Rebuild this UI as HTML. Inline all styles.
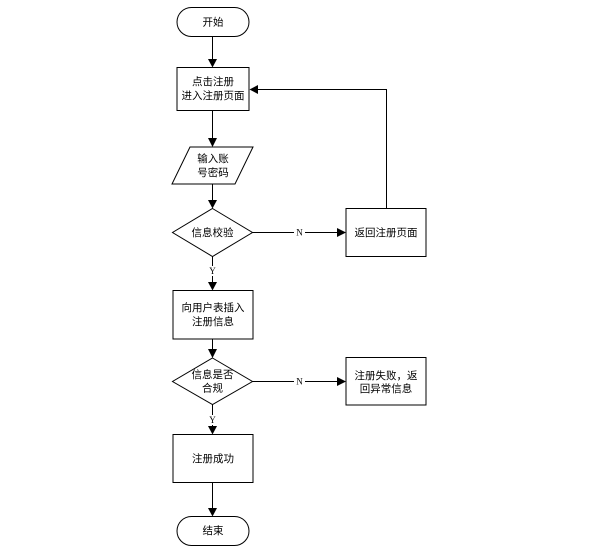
<!DOCTYPE html>
<html><head><meta charset="utf-8"><style>
html,body{margin:0;padding:0;background:#fff;}
svg{display:block;}
.t{font-family:"Liberation Sans","Noto Sans CJK SC",sans-serif;font-size:10.5px;fill:#000;text-anchor:middle;dominant-baseline:central;}
.l{font-family:"Liberation Serif",serif;font-size:9px;fill:#000;text-anchor:middle;dominant-baseline:central;}
</style></head><body>
<svg width="606" height="553" viewBox="0 0 606 553" xmlns="http://www.w3.org/2000/svg">
<g stroke="#000" stroke-width="1" fill="none">
<!-- start -->
<rect x="177" y="7.5" width="72" height="29" rx="14.5" ry="14.5" fill="#fff"/>
<line x1="212.5" y1="36.5" x2="212.5" y2="59"/>
<rect x="177" y="67.5" width="72" height="43" fill="#fff"/>
<line x1="212.5" y1="110.5" x2="212.5" y2="138"/>
<polygon points="190,147 253,147 235,184 172,184" fill="#fff"/>
<line x1="212.5" y1="184" x2="212.5" y2="200"/>
<polygon points="212.5,208.5 252.5,232.5 212.5,256.5 172.5,232.5" fill="#fff"/>
<line x1="252.5" y1="232.5" x2="294" y2="232.5"/>
<line x1="305" y1="232.5" x2="337" y2="232.5"/>
<rect x="346" y="208.5" width="80" height="48" fill="#fff"/>
<polyline points="386.5,208.5 386.5,89.5 258,89.5"/>
<line x1="212.5" y1="256.5" x2="212.5" y2="266"/>
<line x1="212.5" y1="276" x2="212.5" y2="282"/>
<rect x="173" y="290.5" width="80" height="48.5" fill="#fff"/>
<line x1="212.5" y1="339" x2="212.5" y2="349"/>
<polygon points="212.5,358 252.5,381.5 212.5,404.5 172.5,381.5" fill="#fff"/>
<line x1="252.5" y1="381.5" x2="294" y2="381.5"/>
<line x1="305" y1="381.5" x2="337" y2="381.5"/>
<rect x="346" y="357.5" width="80" height="47.5" fill="#fff"/>
<line x1="212.5" y1="404.5" x2="212.5" y2="415"/>
<line x1="212.5" y1="425" x2="212.5" y2="426"/>
<rect x="173" y="434.5" width="80" height="48" fill="#fff"/>
<line x1="212.5" y1="482.5" x2="212.5" y2="508"/>
<rect x="177" y="516.5" width="72" height="29" rx="14.5" ry="14.5" fill="#fff"/>
</g>
<g fill="#000">
<polygon points="208,59 217,59 212.5,67.5"/>
<polygon points="208,138 217,138 212.5,147"/>
<polygon points="208,200 217,200 212.5,208.5"/>
<polygon points="337,228 337,237 346,232.5"/>
<polygon points="258,85 258,94 249.5,89.5"/>
<polygon points="208,282 217,282 212.5,290.5"/>
<polygon points="208,349 217,349 212.5,358"/>
<polygon points="337,377 337,386 346,381.5"/>
<polygon points="208,426 217,426 212.5,434.5"/>
<polygon points="208,508 217,508 212.5,516.5"/>
</g>
<text class="t" x="213" y="22.5">开始</text>
<text class="t" x="213" y="82">点击注册</text>
<text class="t" x="213" y="96">进入注册页面</text>
<text class="t" x="213" y="159">输入账</text>
<text class="t" x="213" y="173">号密码</text>
<text class="t" x="212.5" y="233">信息校验</text>
<text class="l" x="299.5" y="232.5">N</text>
<text class="t" x="386" y="233">返回注册页面</text>
<text class="l" x="212.5" y="271">Y</text>
<text class="t" x="213" y="308">向用户表插入</text>
<text class="t" x="213" y="322">注册信息</text>
<text class="t" x="212.5" y="375">信息是否</text>
<text class="t" x="212.5" y="388.5">合规</text>
<text class="l" x="299.5" y="381.5">N</text>
<text class="t" x="386" y="376">注册失败，返</text>
<text class="t" x="386" y="389">回异常信息</text>
<text class="l" x="212.5" y="420">Y</text>
<text class="t" x="213" y="459">注册成功</text>
<text class="t" x="213" y="531">结束</text>
</svg>
</body></html>
